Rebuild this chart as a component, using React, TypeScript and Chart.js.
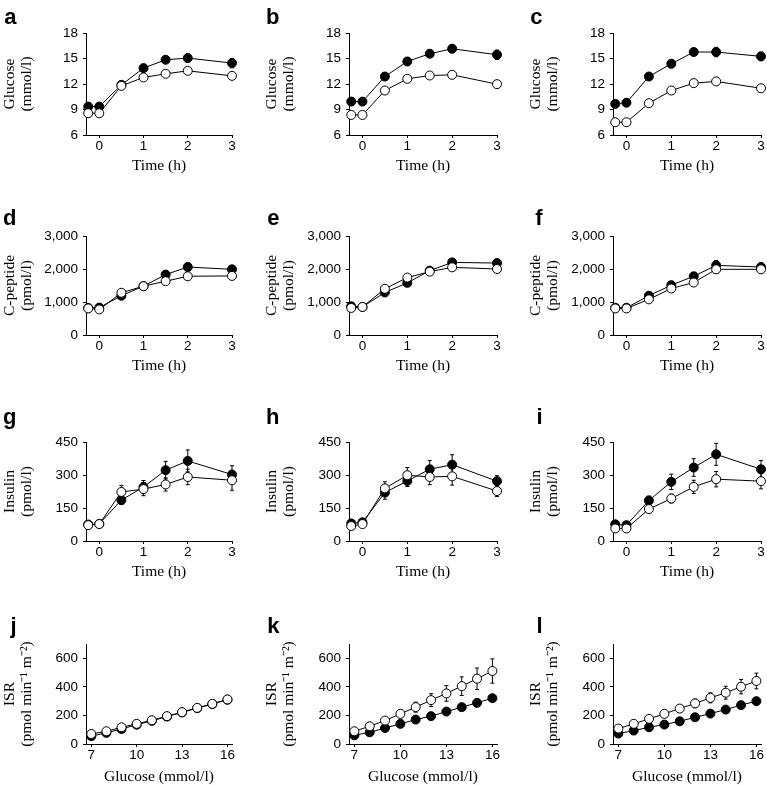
import React, { useEffect, useRef } from "react";
import { Chart, registerables } from "chart.js";

Chart.register(...registerables);

// ---------- data ----------
const timeHours = [-0.25, 0, 0.5, 1, 1.5, 2, 3];
const timeTicks = [0, 1, 2, 3];
const glucoseLevels = [7, 8, 9, 10, 11, 12, 13, 14, 15, 16];
const glucoseLevelTicks = [7, 10, 13, 16];

const glucoseAxisTicks = [6, 9, 12, 15, 18];
const cPeptideAxisTicks = [0, 1000, 2000, 3000];
const insulinAxisTicks = [0, 150, 300, 450];
const isrAxisTicks = [0, 200, 400, 600];

// a – glucose
const aFilled = [9.34, 9.34, 11.9, 13.87, 14.85, 15.05, 14.46];
const aFilledErr = [0.3, 0.3, 0.3, 0.4, 0.4, 0.45, 0.55];
const aOpen = [8.56, 8.56, 11.78, 12.77, 13.2, 13.55, 12.96];
const aOpenErr = [0.2, 0.2, 0.3, 0.3, 0.3, 0.3, 0.35];
// b – glucose
const bFilled = [9.93, 9.93, 12.88, 14.65, 15.56, 16.15, 15.44];
const bFilledErr = [0.3, 0.3, 0.35, 0.4, 0.4, 0.45, 0.55];
const bOpen = [8.36, 8.36, 11.23, 12.61, 13.0, 13.08, 11.98];
const bOpenErr = [0.2, 0.2, 0.3, 0.3, 0.3, 0.35, 0.45];
// c – glucose
const cFilled = [9.66, 9.8, 12.88, 14.38, 15.76, 15.76, 15.25];
const cFilledErr = [0.3, 0.3, 0.35, 0.45, 0.4, 0.55, 0.5];
const cOpen = [7.5, 7.5, 9.74, 11.23, 12.1, 12.3, 11.5];
const cOpenErr = [0.2, 0.2, 0.3, 0.3, 0.3, 0.3, 0.35];
// d – C-peptide
const dFilled = [820, 830, 1190, 1480, 1830, 2060, 1990];
const dFilledErr = [40, 40, 60, 70, 110, 120, 100];
const dOpen = [805, 775, 1280, 1480, 1630, 1780, 1790];
const dOpenErr = [40, 40, 60, 70, 80, 90, 110];
// e – C-peptide
const eFilled = [870, 850, 1290, 1580, 1950, 2200, 2180];
const eFilledErr = [40, 40, 60, 80, 100, 90, 80];
const eOpen = [820, 850, 1400, 1740, 1920, 2050, 2000];
const eOpenErr = [40, 40, 70, 80, 90, 110, 90];
// f – C-peptide
const fFilled = [826, 826, 1190, 1510, 1780, 2110, 2060];
const fFilledErr = [40, 40, 60, 80, 100, 150, 130];
const fOpen = [805, 805, 1080, 1410, 1590, 1990, 1990];
const fOpenErr = [40, 40, 50, 70, 90, 120, 120];
// g – insulin
const gFilled = [75, 78, 186, 245, 322, 364, 302];
const gFilledErr = [10, 10, 20, 30, 40, 50, 40];
const gOpen = [72, 77, 223, 236, 257, 291, 276];
const gOpenErr = [10, 10, 30, 30, 30, 35, 45];
// h – insulin
const hFilled = [80, 85, 220, 273, 326, 347, 272];
const hFilledErr = [10, 10, 30, 25, 40, 45, 25];
const hOpen = [68, 77, 239, 299, 291, 294, 227];
const hOpenErr = [10, 10, 30, 35, 35, 40, 25];
// i – insulin
const iFilled = [76, 72, 184, 269, 334, 394, 326];
const iFilledErr = [12, 10, 20, 35, 40, 50, 40];
const iOpen = [57, 57, 145, 193, 246, 281, 272];
const iOpenErr = [8, 8, 15, 20, 30, 35, 35];
// j – ISR
const jFilled = [55, 78, 105, 135, 162, 192, 221, 251, 280, 310];
const jFilledErr = [8, 8, 8, 8, 10, 10, 10, 12, 12, 12];
const jOpen = [70, 89, 117, 141, 166, 195, 223, 253, 281, 312];
const jOpenErr = [10, 10, 10, 10, 12, 12, 12, 14, 14, 15];
// k – ISR
const kFilled = [61, 82, 112, 141, 171, 195, 227, 258, 288, 321];
const kFilledErr = [8, 8, 8, 10, 10, 10, 12, 12, 14, 15];
const kOpen = [89, 124, 164, 211, 258, 307, 354, 405, 457, 511];
const kOpenErr = [15, 15, 20, 25, 35, 45, 55, 65, 75, 85];
// l – ISR
const lFilled = [73, 94, 117, 136, 159, 187, 213, 241, 272, 300];
const lFilledErr = [8, 8, 8, 10, 10, 12, 12, 15, 20, 25];
const lOpen = [108, 141, 176, 211, 248, 284, 323, 359, 401, 441];
const lOpenErr = [12, 12, 15, 20, 25, 30, 35, 45, 50, 55];

const panelLetters = ["a", "b", "c", "d", "e", "f", "g", "h", "i", "j", "k", "l"];
const yTitles = [
  ["Glucose", "(mmol/l)"],
  ["C-peptide", "(pmol/l)"],
  ["Insulin", "(pmol/l)"],
  ["ISR", "(pmol min\u207B\u00B9 m\u207B\u00B2)"],
];
const xTitles = ["Time (h)", "Time (h)", "Time (h)", "Glucose (mmol/l)"];

// ---------- layout ----------
const SANS = '"Liberation Sans", Arial, Helvetica, sans-serif';
const SERIF = '"Liberation Serif", "Times New Roman", Times, serif';

const colCanvasLeft = [0, 262, 526];
const colAxisWidth = [86, 87, 87];
const colChartRight = [232, 497, 761];
const colLetterRight = [16.5, 279.5, 542.5];
const PAD_RIGHT = 6;
const PAD_TOP = 10;

const rowCanvasTop = [23, 226, 432, 634];
const rowChartBottom = [135, 335, 541, 744];
const rowXAxisHeight = [39, 39, 39, 41];
const rowLetterTop = [5.5, 206.5, 406, 614.5];

type Panel = {
  letter: string;
  row: number;
  col: number;
  x: number[];
  xTicks: number[];
  xMin: number;
  xMax: number;
  yMin: number;
  yMax: number;
  yTicks: number[];
  filled: number[];
  filledErr: number[];
  open: number[];
  openErr: number[];
};

const rowSpecs = [
  { x: timeHours, xTicks: timeTicks, xMin: -0.3, xMax: 3, yMin: 6, yMax: 18, yTicks: glucoseAxisTicks },
  { x: timeHours, xTicks: timeTicks, xMin: -0.3, xMax: 3, yMin: 0, yMax: 3000, yTicks: cPeptideAxisTicks },
  { x: timeHours, xTicks: timeTicks, xMin: -0.3, xMax: 3, yMin: 0, yMax: 450, yTicks: insulinAxisTicks },
  { x: glucoseLevels, xTicks: glucoseLevelTicks, xMin: 6.65, xMax: 16.3, yMin: 0, yMax: 700, yTicks: isrAxisTicks },
];

const seriesByPanel = [
  [aFilled, aFilledErr, aOpen, aOpenErr],
  [bFilled, bFilledErr, bOpen, bOpenErr],
  [cFilled, cFilledErr, cOpen, cOpenErr],
  [dFilled, dFilledErr, dOpen, dOpenErr],
  [eFilled, eFilledErr, eOpen, eOpenErr],
  [fFilled, fFilledErr, fOpen, fOpenErr],
  [gFilled, gFilledErr, gOpen, gOpenErr],
  [hFilled, hFilledErr, hOpen, hOpenErr],
  [iFilled, iFilledErr, iOpen, iOpenErr],
  [jFilled, jFilledErr, jOpen, jOpenErr],
  [kFilled, kFilledErr, kOpen, kOpenErr],
  [lFilled, lFilledErr, lOpen, lOpenErr],
];

const panels: Panel[] = seriesByPanel.map((s, idx) => {
  const row = Math.floor(idx / 3);
  const col = idx % 3;
  return {
    letter: panelLetters[idx],
    row,
    col,
    ...rowSpecs[row],
    filled: s[0],
    filledErr: s[1],
    open: s[2],
    openErr: s[3],
  };
});

// ---------- error bar plugin ----------
const errorBarPlugin = {
  id: "errorBars",
  beforeDatasetDraw(chart: any, args: any) {
    const ds: any = chart.data.datasets[args.index];
    const errs: number[] | undefined = ds.errors;
    if (!errs) return;
    const yScale = chart.scales.y;
    const ctx = chart.ctx;
    ctx.save();
    ctx.strokeStyle = "#000";
    ctx.lineWidth = 1;
    args.meta.data.forEach((pt: any, i: number) => {
      const v = ds.data[i].y;
      const e = errs[i];
      if (!e) return;
      const x = pt.x;
      const yTop = yScale.getPixelForValue(v + e);
      const yBot = yScale.getPixelForValue(v - e);
      ctx.beginPath();
      ctx.moveTo(x, yTop);
      ctx.lineTo(x, yBot);
      ctx.moveTo(x - 2, yTop);
      ctx.lineTo(x + 2, yTop);
      ctx.moveTo(x - 2, yBot);
      ctx.lineTo(x + 2, yBot);
      ctx.stroke();
    });
    ctx.restore();
  },
};

function PanelChart({ p }: { p: Panel }) {
  const ref = useRef<HTMLCanvasElement>(null);
  const left = colCanvasLeft[p.col];
  const top = rowCanvasTop[p.row];
  const width = colChartRight[p.col] + PAD_RIGHT - left;
  const height = rowChartBottom[p.row] + rowXAxisHeight[p.row] - top;

  useEffect(() => {
    const tickFont = { family: SANS, size: 13.5, lineHeight: 1.2 };
    const titleFont = { family: SERIF, size: 15.5, lineHeight: 1.1 };
    const common = {
      borderColor: "#000",
      borderWidth: 1,
      pointRadius: 4.5,
      pointBorderColor: "#000",
      pointBorderWidth: 1,
      tension: 0,
      clip: false,
    };
    const chart = new Chart(ref.current as HTMLCanvasElement, {
      type: "line",
      data: {
        datasets: [
          {
            ...common,
            data: p.x.map((x, i) => ({ x, y: p.open[i] })),
            errors: p.openErr,
            pointBackgroundColor: "#fff",
            backgroundColor: "#fff",
          } as any,
          {
            ...common,
            data: p.x.map((x, i) => ({ x, y: p.filled[i] })),
            errors: p.filledErr,
            pointBackgroundColor: "#000",
            backgroundColor: "#000",
          } as any,
        ],
      },
      options: {
        responsive: false,
        animation: false,
        events: [],
        layout: { padding: { top: PAD_TOP, right: PAD_RIGHT, bottom: 0, left: 0 } },
        plugins: { legend: { display: false }, tooltip: { enabled: false } },
        scales: {
          x: {
            type: "linear",
            min: p.xMin,
            max: p.xMax,
            afterBuildTicks: (s: any) => {
              s.ticks = p.xTicks.map((v) => ({ value: v }));
            },
            afterFit: (s: any) => {
              s.height = rowXAxisHeight[p.row];
              s.paddingLeft = 0;
              s.paddingRight = 0;
            },
            grid: { display: true, drawOnChartArea: false, drawTicks: true, tickLength: 3, color: "#000", lineWidth: 1 },
            border: { display: true, color: "#000", width: 1 },
            ticks: {
              font: tickFont,
              color: "#000",
              padding: 0,
              maxRotation: 0,
              autoSkip: false,
              callback: (v: any) => String(v),
            },
            title: { display: true, text: xTitles[p.row], font: titleFont, color: "#000", padding: 0 },
          },
          y: {
            type: "linear",
            min: p.yMin,
            max: p.yMax,
            afterBuildTicks: (s: any) => {
              s.ticks = p.yTicks.map((v) => ({ value: v }));
            },
            afterFit: (s: any) => {
              s.width = colAxisWidth[p.col];
              s.paddingTop = 0;
              s.paddingBottom = 0;
            },
            grid: { display: true, drawOnChartArea: false, drawTicks: true, tickLength: 3, color: "#000", lineWidth: 1 },
            border: { display: true, color: "#000", width: 1 },
            ticks: {
              font: tickFont,
              color: "#000",
              padding: 5,
              autoSkip: false,
              callback: (v: any) => Number(v).toLocaleString("en-US"),
            },
            title: {
              display: true,
              text: yTitles[p.row],
              font: titleFont,
              color: "#000",
              padding: { top: 1.5, bottom: 0 },
            },
          },
        },
      } as any,
      plugins: [errorBarPlugin],
    });
    return () => chart.destroy();
  }, []);

  return (
    <>
      <canvas
        ref={ref}
        width={width}
        height={height}
        style={{ position: "absolute", left, top, width, height }}
      />
      <div
        style={{
          position: "absolute",
          left: colLetterRight[p.col] - 30,
          top: rowLetterTop[p.row],
          width: 30,
          textAlign: "right",
          font: `bold 22px ${SANS}`,
          lineHeight: "22px",
          color: "#000",
        }}
      >
        {p.letter}
      </div>
    </>
  );
}

export default function App() {
  return (
    <div
      style={{
        position: "absolute",
        left: 0,
        top: 0,
        width: 767,
        height: 785,
        overflow: "hidden",
        background: "#fff",
      }}
    >
      {panels.map((p) => (
        <PanelChart key={p.letter} p={p} />
      ))}
    </div>
  );
}
